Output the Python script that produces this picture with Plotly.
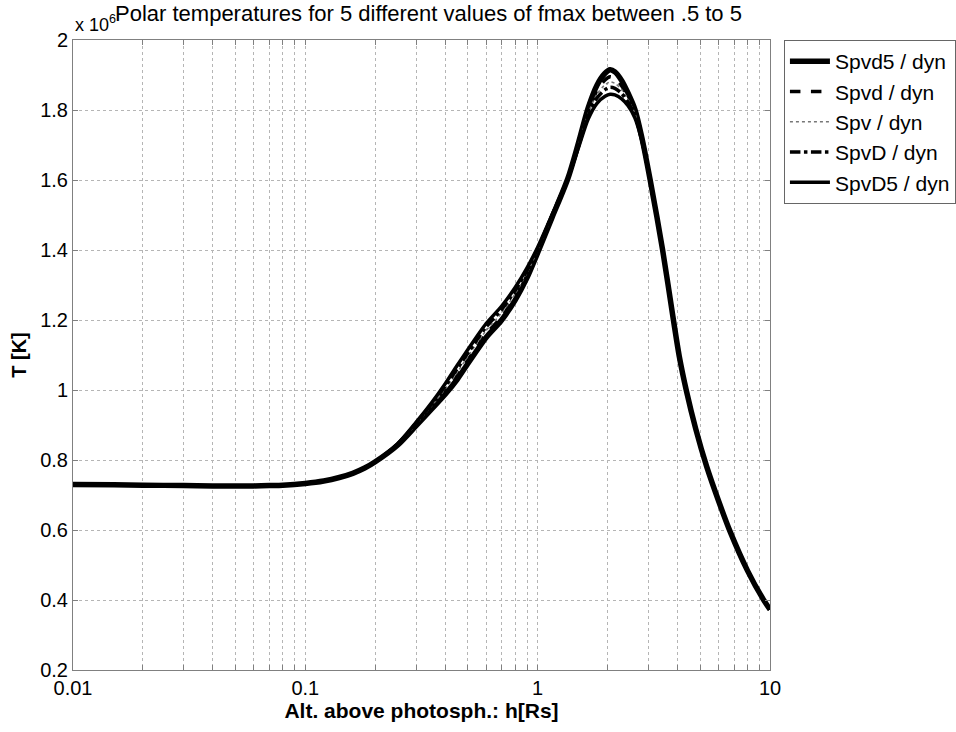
import plotly.graph_objects as go

# Altitude above photosphere h [Rs]
h = [0.01, 0.015, 0.02, 0.03, 0.04, 0.05, 0.06, 0.07, 0.08, 0.1,
     0.12, 0.14, 0.16, 0.18, 0.2, 0.25, 0.3, 0.35, 0.4, 0.45,
     0.5, 0.55, 0.6, 0.7, 0.8, 0.9, 1.0, 1.15, 1.35, 1.5,
     1.65, 1.8, 1.95, 2.05, 2.15, 2.3, 2.45, 2.62, 2.8, 3.05,
     3.45, 3.84, 4.07, 4.37, 4.79, 5.34, 6.03, 6.73, 8.0, 9.37, 10]

# Temperatures in units of 10^6 K
common_low = [0.730, 0.729, 0.728, 0.727, 0.726, 0.726, 0.726, 0.727, 0.728, 0.733,
              0.740, 0.750, 0.762, 0.777, 0.795]
common_high = [1.400, 1.200, 1.096, 0.997, 0.889, 0.781, 0.680, 0.596, 0.484, 0.401, 0.373]

T_Spvd5 = common_low + [0.843, 0.898, 0.946, 0.988, 1.030, 1.075, 1.115, 1.150, 1.200, 1.257,
                        1.321, 1.392, 1.491, 1.605, 1.707, 1.806, 1.871, 1.905, 1.915, 1.909,
                        1.884, 1.848, 1.802, 1.725, 1.600] + common_high
T_Spvd = common_low + [0.844, 0.900, 0.950, 0.995, 1.040, 1.085, 1.125, 1.160, 1.210, 1.266,
                       1.328, 1.396, 1.493, 1.605, 1.703, 1.797, 1.856, 1.886, 1.895, 1.890,
                       1.869, 1.838, 1.795, 1.722, 1.600] + common_high
T_Spv = common_low + [0.845, 0.903, 0.955, 1.003, 1.050, 1.095, 1.135, 1.170, 1.220, 1.275,
                      1.335, 1.400, 1.495, 1.605, 1.700, 1.790, 1.845, 1.872, 1.880, 1.876,
                      1.858, 1.830, 1.790, 1.720, 1.600] + common_high
T_SpvD = common_low + [0.846, 0.906, 0.960, 1.011, 1.060, 1.105, 1.145, 1.180, 1.230, 1.284,
                       1.342, 1.404, 1.497, 1.605, 1.697, 1.783, 1.834, 1.858, 1.865, 1.862,
                       1.847, 1.822, 1.785, 1.718, 1.600] + common_high
T_SpvD5 = common_low + [0.847, 0.908, 0.964, 1.018, 1.070, 1.115, 1.155, 1.190, 1.240, 1.293,
                        1.349, 1.408, 1.499, 1.605, 1.693, 1.774, 1.819, 1.839, 1.845, 1.843,
                        1.832, 1.812, 1.778, 1.715, 1.600] + common_high

names = ["Spvd5 / dyn", "Spvd / dyn", "Spv / dyn", "SpvD / dyn", "SpvD5 / dyn"]
series = [T_Spvd5, T_Spvd, T_Spv, T_SpvD, T_SpvD5]
styles = [("solid", 5.5, "black"), ("dash", 3.5, "black"), ("dot", 1.5, "#777777"),
          ("dashdot", 3.5, "black"), ("solid", 3.5, "black")]

y_ticks = [0.2, 0.4, 0.6, 0.8, 1.0, 1.2, 1.4, 1.6, 1.8, 2.0]
y_ticktext = ["0.2", "0.4", "0.6", "0.8", "1", "1.2", "1.4", "1.6", "1.8", "2"]

x_ticks = []
x_ticktext = []
for dec, lab in [(0.01, "0.01"), (0.1, "0.1"), (1, "1")]:
    for m in range(1, 10):
        x_ticks.append(round(dec * m, 6))
        x_ticktext.append(lab if m == 1 else "")
x_ticks.append(10)
x_ticktext.append("10")

fig = go.Figure()
for name, T, (dash, w, col) in zip(names, series, styles):
    fig.add_trace(go.Scatter(
        x=h, y=T, mode="lines", name=name,
        line=dict(color=col, width=w, dash=dash, shape="spline", smoothing=0.8),
    ))

font_family = "Liberation Sans, Arial, sans-serif"
fig.update_layout(
    width=956, height=732,
    paper_bgcolor="white", plot_bgcolor="white",
    margin=dict(l=73, r=186, t=40, b=62, autoexpand=False),
    font=dict(family=font_family, size=20, color="black"),
    showlegend=True,
    legend=dict(x=1.02, xanchor="left", y=1.0, yanchor="top",
                bordercolor="#666666", borderwidth=1, bgcolor="white",
                font=dict(size=21), itemwidth=40, tracegroupgap=0),
)
fig.update_xaxes(
    type="log", range=[-2, 1], automargin=False,
    tickvals=x_ticks, ticktext=x_ticktext,
    showgrid=True, gridcolor="#b5b5b5", griddash="dot", gridwidth=1,
    showline=True, linecolor="#808080", linewidth=1, mirror="ticks",
    ticks="inside", ticklen=5, tickcolor="#808080",
    zeroline=False,
    title=dict(text="<b>Alt. above photosph.: h[Rs]</b>", standoff=0, font=dict(size=21)),
)
fig.update_yaxes(
    range=[0.2, 2.0], automargin=False,
    tickvals=y_ticks, ticktext=y_ticktext,
    showgrid=True, gridcolor="#b5b5b5", griddash="dot", gridwidth=1,
    showline=True, linecolor="#808080", linewidth=1, mirror="ticks",
    ticks="inside", ticklen=5, tickcolor="#808080",
    zeroline=False,
    title=dict(text="<b>T [K]</b>", standoff=8, font=dict(size=20)),
)
fig.add_annotation(text="Polar temperatures for 5 different values of fmax between .5 to 5",
                   xref="paper", yref="paper", x=0.5, y=1.0, yshift=12, xshift=7,
                   xanchor="center", yanchor="bottom", showarrow=False,
                   font=dict(size=22))
fig.add_annotation(text="x 10<sup>6</sup>",
                   xref="paper", yref="paper", x=0.0, y=1.0, yshift=3,
                   xanchor="left", yanchor="bottom", showarrow=False,
                   font=dict(size=18))

fig.write_html("out.html",
               config={"displayModeBar": False},
               post_script="document.body.style.margin='0';document.body.style.overflow='hidden';")
